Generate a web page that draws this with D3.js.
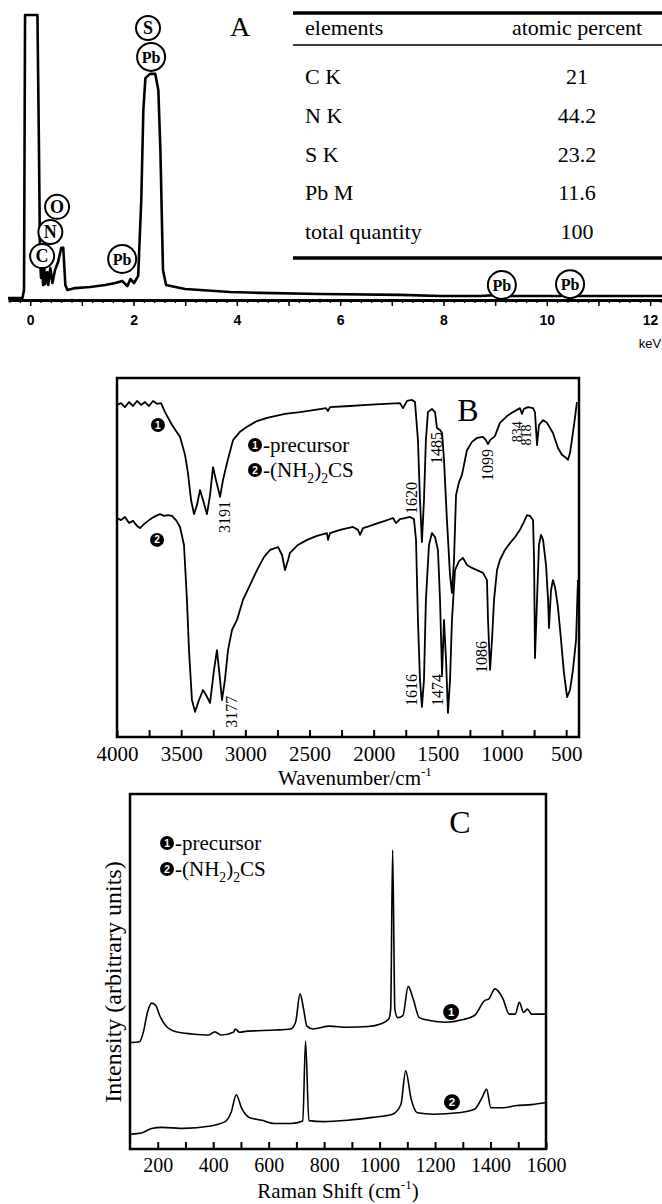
<!DOCTYPE html>
<html>
<head>
<meta charset="utf-8">
<script src="https://cdn.jsdelivr.net/npm/d3@7"></script>
<style>
body { margin: 0; background: #fff; }
svg { display: block; }
</style>
</head>
<body>
<div id="chart"></div>
<script>
// ---- panel A: EDS spectrum (keV, counts in % of full scale)
var edsKeV = [-0.43,-0.15,-0.12,-0.10,0.14,0.17,0.19,0.21,0.23,0.25,0.27,0.29,0.33,0.35,0.39,0.43,0.48,0.54,0.60,0.64,0.68,0.72,0.87,1.16,1.45,1.65,1.78,1.88,1.94,2.01,2.09,2.15,2.19,2.23,2.32,2.42,2.48,2.52,2.57,2.63,2.81,3.00,3.29,3.87,4.45,5.61,7.16,7.94,8.71,9.10,9.19,9.29,10.26,10.45,10.57,12.23];
var edsCounts = [0,0,2.8,100,100,52,13.4,7.1,10.6,4.6,11.3,4.9,9.2,4.6,10.6,5.3,9.9,12.7,17.7,17.7,4.6,2.8,3.5,3.9,4.6,5.3,6.0,4.2,6.7,5.3,7.8,34.6,66.4,77.7,79.2,79.2,73.5,52.3,9.9,4.6,3.9,3.2,2.8,2.1,1.8,1.4,1.1,0.7,0.7,1.1,1.8,0.7,0.7,1.4,0.7,0.7];
var edsPeakNames = ['S','Pb','O','N','C','Pb','Pb','Pb'];
var edsPeakKeV = [2.28,2.34,0.52,0.39,0.23,1.78,9.13,10.45];
var edsPeakCounts = [95.4,85.2,32.2,23.3,14.8,13.8,4.6,4.9];
var edsTicks = [0,1,2,3,4,5,6,7,8,9,10,11,12];

// ---- panel A table
var tableElements = ['C K','N K','S K','Pb M','total quantity'];
var tableAtomic = ['21','44.2','23.2','11.6','100'];

// ---- panel B: FT-IR (wavenumber, transmittance in arbitrary %)
var ir1Wn = [4000,3969,3938,3906,3875,3844,3813,3782,3751,3719,3688,3657,3626,3571,3509,3470,3447,3423,3400,3377,3353,3330,3299,3275,3252,3229,3197,3174,3143,3096,3042,2987,2909,2831,2691,2574,2457,2371,2356,2340,2184,2052,1912,1795,1771,1740,1701,1678,1655,1639,1624,1608,1593,1577,1546,1522,1507,1483,1467,1452,1429,1405,1390,1374,1358,1335,1312,1273,1234,1195,1148,1125,1109,1093,1055,1016,961,914,860,844,829,797,758,743,727,712,680,649,603,564,533,509,486,470,439,416];
var ir1T = [92.5,93.0,91.9,93.3,92.2,93.6,92.5,93.3,92.2,93.6,92.8,93.0,90.5,86.9,83.6,78.6,73.5,66.0,62.1,64.6,68.8,66.0,62.1,67.4,75.2,71.6,66.9,71.6,76.3,82.7,85.0,86.4,88.0,88.9,90.0,90.5,91.1,91.6,90.8,91.9,92.2,92.5,92.8,93.0,91.6,93.6,93.9,93.3,82.7,66.0,54.3,66.0,82.7,90.5,91.4,90.5,86.1,85.5,84.7,77.2,60.4,45.1,40.1,49.3,67.4,71.0,73.0,79.9,82.2,83.3,83.6,82.7,81.6,82.7,83.8,87.5,89.4,90.5,91.6,90.0,91.4,91.9,91.6,90.5,81.3,86.9,88.3,87.5,84.7,80.5,78.6,78.0,77.2,79.1,86.9,93.3];
var ir2Wn = [4000,3969,3938,3906,3875,3844,3821,3790,3758,3727,3696,3665,3634,3603,3571,3540,3509,3478,3455,3439,3416,3392,3361,3330,3306,3275,3244,3221,3197,3182,3159,3135,3104,3065,3018,2964,2909,2855,2808,2745,2714,2691,2667,2652,2590,2519,2442,2364,2356,2340,2262,2161,2122,2106,2083,2052,1990,1912,1849,1826,1795,1756,1717,1686,1670,1655,1639,1624,1608,1593,1569,1546,1522,1499,1483,1467,1452,1436,1421,1405,1390,1366,1335,1304,1273,1234,1195,1148,1117,1109,1093,1078,1062,1039,1016,977,938,898,860,829,805,782,758,750,743,727,712,696,680,657,641,634,618,603,587,564,540,517,493,470,447,423,408];
var ir2T = [61.0,60.4,61.3,59.6,60.2,58.8,58.2,59.3,60.2,61.0,61.6,62.1,61.6,61.8,61.6,60.4,58.5,53.5,38.2,24.2,10.3,7.0,10.3,13.1,11.7,9.5,18.7,24.2,15.9,10.3,15.9,24.2,29.8,32.6,38.2,42.3,46.5,50.1,52.1,52.9,50.7,46.5,49.3,51.3,53.5,54.9,56.0,56.8,54.9,56.8,57.7,58.5,57.7,56.3,58.2,58.5,59.3,60.2,61.0,59.6,60.7,61.0,61.3,60.7,54.9,32.6,15.9,8.4,15.9,38.2,53.5,56.8,55.7,52.1,38.2,17.3,32.6,21.4,6.7,15.9,32.6,46.5,49.0,49.9,47.9,47.1,46.5,45.7,43.7,32.6,18.7,27.0,38.2,46.5,49.3,52.1,54.0,55.7,57.7,59.9,61.8,61.6,60.4,49.3,22.0,38.2,53.5,56.3,54.9,47.9,38.2,30.4,40.9,43.7,41.8,36.2,27.0,17.8,11.1,13.1,18.7,27.0,43.7];
var irTicks = [4000,3750,3500,3250,3000,2750,2500,2250,2000,1750,1500,1250,1000,750,500];
var irBandText = ['3191','3177','1620','1485','1099','834','818','1616','1474','1086'];
var irBandWn = [3158,3104,1701,1507,1109,883,813,1701,1499,1156];
var irBandT = [61.3,7.0,66.6,80.5,75.8,85.0,84.1,13.1,13.1,22.3];

// ---- panel C: Raman (shift, intensity in arbitrary units)
var ramanShift1 = [104,134,148,163,178,193,207,229,266,325,384,406,428,473,480,495,524,561,620,679,697,713,726,738,760,819,885,959,1003,1033,1040,1047,1055,1065,1084,1103,1121,1143,1180,1239,1298,1342,1379,1394,1416,1445,1467,1489,1504,1519,1533,1548,1600];
var ramanInt1 = [30.0,30.2,32.9,38.5,41.1,40.4,37.6,34.7,33.0,32.4,32.1,33.0,32.1,32.9,33.8,32.9,33.2,33.3,33.5,33.8,35.7,43.7,39.4,34.6,33.8,34.6,34.3,34.5,35.2,36.6,39.4,84.2,39.4,37.0,37.6,45.8,42.3,37.0,36.2,35.7,36.4,37.6,41.8,42.3,45.1,42.3,38.0,38.0,41.3,38.5,39.4,38.0,38.0];
var ramanShift2 = [104,141,178,215,296,384,443,465,483,502,532,576,620,679,723,733,745,797,885,973,1047,1077,1094,1114,1136,1195,1283,1342,1369,1386,1401,1445,1489,1548,1600];
var ramanInt2 = [4.2,4.5,5.8,6.1,5.8,6.4,7.7,10.4,15.3,11.6,8.8,8.1,7.2,7.2,7.9,30.4,8.0,7.7,8.1,8.9,9.8,12.6,22.0,14.0,10.2,9.8,10.2,11.2,14.4,16.8,11.6,11.6,12.2,12.5,13.1];
var ramanTicks = [200,300,400,500,600,700,800,900,1000,1100,1200,1300,1400,1500,1600];

var W = 662, H = 1204;
var serif = '"Liberation Serif", "Times New Roman", serif';
var sans = '"Liberation Sans", Arial, sans-serif';

var svg = d3.select('#chart').append('svg')
    .attr('width', W)
    .attr('height', H);
svg.append('rect').attr('width', W).attr('height', H).attr('fill', '#fff');

function trace(g, xs, ys, x, y, width, curve) {
    g.append('path')
        .datum(d3.zip(xs, ys))
        .attr('d', d3.line()
            .x(function(d) { return x(d[0]); })
            .y(function(d) { return y(d[1]); })
            .curve(curve || d3.curveLinear))
        .attr('fill', 'none')
        .attr('stroke', '#000')
        .attr('stroke-width', width)
        .attr('stroke-linejoin', 'round');
}

// black disc with a number in it
function bullet(g, cx, cy, r, num) {
    g.append('circle').attr('cx', cx).attr('cy', cy).attr('r', r).attr('fill', '#000');
    g.append('text').attr('x', cx).attr('y', cy + r * 0.5)
        .attr('text-anchor', 'middle')
        .attr('font-family', sans).attr('font-weight', 'bold')
        .attr('font-size', r * 1.45).attr('fill', '#fff')
        .text(num);
}

function legend(g, x, y, r, size, gap) {
    bullet(g, x, y, r, '1');
    g.append('text').attr('x', x + r + 1).attr('y', y + size * 0.33)
        .attr('font-family', serif).attr('font-size', size)
        .text('-precursor');
    bullet(g, x, y + gap, r, '2');
    var t = g.append('text').attr('x', x + r + 1).attr('y', y + gap + size * 0.33)
        .attr('font-family', serif).attr('font-size', size);
    t.append('tspan').text('-(NH');
    t.append('tspan').attr('dy', size * 0.3).attr('font-size', size * 0.65).text('2');
    t.append('tspan').attr('dy', -size * 0.3).text(')');
    t.append('tspan').attr('dy', size * 0.3).attr('font-size', size * 0.65).text('2');
    t.append('tspan').attr('dy', -size * 0.3).text('CS');
}

// ================= panel A =================
var xA = d3.scaleLinear().domain([-0.43, 12.23]).range([8, 662]);
var yA = d3.scaleLinear().domain([0, 100]).range([298, 15]);
var gA = svg.append('g');

trace(gA, edsKeV, edsCounts, xA, yA, 2.6);

var axA = gA.append('g')
    .attr('transform', 'translate(0,300)')
    .call(d3.axisBottom(xA).tickValues(edsTicks).tickSizeInner(6).tickSizeOuter(0).tickPadding(9)
        .tickFormat(function(d) { return d % 2 === 0 ? d : ''; }));
axA.select('.domain').attr('stroke-width', 3);
axA.selectAll('.tick line').attr('stroke-width', 1.5);
axA.selectAll('.tick text').attr('font-family', sans).attr('font-size', 14).attr('font-weight', 'bold');

var minorA = gA.append('g')
    .attr('transform', 'translate(0,300)')
    .call(d3.axisBottom(xA).tickValues(d3.range(-0.4, 12.21, 0.2)).tickSizeInner(3).tickSizeOuter(0).tickFormat(''));
minorA.select('.domain').remove();
minorA.selectAll('.tick line').attr('stroke-width', 1.2);

gA.append('text').attr('x', 650).attr('y', 348)
    .attr('text-anchor', 'middle').attr('font-family', sans).attr('font-size', 13)
    .text('keV');

edsPeakNames.forEach(function(name, i) {
    var cx = xA(edsPeakKeV[i]);
    var cy = yA(edsPeakCounts[i]);
    var r = name === 'Pb' ? 14 : 12;
    gA.append('circle').attr('cx', cx).attr('cy', cy).attr('r', r)
        .attr('fill', '#fff').attr('stroke', '#000').attr('stroke-width', 2);
    gA.append('text').attr('x', cx).attr('y', cy + 6)
        .attr('text-anchor', 'middle').attr('font-family', serif)
        .attr('font-weight', 'bold').attr('font-size', name === 'Pb' ? 16 : 18)
        .text(name);
});

gA.append('text').attr('x', 240).attr('y', 36)
    .attr('text-anchor', 'middle').attr('font-family', serif).attr('font-size', 28)
    .text('A');

// table
var rowY = d3.scalePoint().domain(tableElements).range([77, 232]);
var tbl = gA.append('g');
tbl.append('line').attr('x1', 293).attr('x2', 662).attr('y1', 13).attr('y2', 13)
    .attr('stroke', '#000').attr('stroke-width', 3.5);
tbl.append('line').attr('x1', 293).attr('x2', 662).attr('y1', 45).attr('y2', 45)
    .attr('stroke', '#000').attr('stroke-width', 1.5);
tbl.append('line').attr('x1', 293).attr('x2', 662).attr('y1', 258).attr('y2', 258)
    .attr('stroke', '#000').attr('stroke-width', 3.5);
tbl.append('text').attr('x', 305).attr('y', 35)
    .attr('font-family', serif).attr('font-size', 22).text('elements');
tbl.append('text').attr('x', 577).attr('y', 35).attr('text-anchor', 'middle')
    .attr('font-family', serif).attr('font-size', 22).text('atomic percent');
tableElements.forEach(function(el, i) {
    tbl.append('text').attr('x', 305).attr('y', rowY(el) + 7)
        .attr('font-family', serif).attr('font-size', 22).text(el);
    tbl.append('text').attr('x', 577).attr('y', rowY(el) + 7).attr('text-anchor', 'middle')
        .attr('font-family', serif).attr('font-size', 22).text(tableAtomic[i]);
});

// ================= panel B =================
var xB = d3.scaleLinear().domain([4000, 400]).range([117, 579]);
var yB = d3.scaleLinear().domain([0, 100]).range([737, 378]);
var gB = svg.append('g');

trace(gB, ir1Wn, ir1T, xB, yB, 1.8);
trace(gB, ir2Wn, ir2T, xB, yB, 1.8);

var axB = gB.append('g')
    .attr('transform', 'translate(0,737)')
    .call(d3.axisBottom(xB).tickValues(irTicks).tickSizeInner(-7).tickSizeOuter(0).tickPadding(8)
        .tickFormat(function(d) { return d % 500 === 0 ? d : ''; }));
axB.select('.domain').remove();
axB.selectAll('.tick line').attr('stroke-width', 2);
axB.selectAll('.tick text').attr('font-family', serif).attr('font-size', 21).attr('dy', '0.75em');

gB.append('rect').attr('x', 117).attr('y', 378).attr('width', 462).attr('height', 359)
    .attr('fill', 'none').attr('stroke', '#000').attr('stroke-width', 2.5);

var tB = gB.append('text').attr('x', 355).attr('y', 785).attr('text-anchor', 'middle')
    .attr('font-family', serif).attr('font-size', 21);
tB.append('tspan').text('Wavenumber/cm');
tB.append('tspan').attr('dy', -9).attr('font-size', 13).text('-1');

gB.append('text').attr('x', 468).attr('y', 421)
    .attr('text-anchor', 'middle').attr('font-family', serif).attr('font-size', 32)
    .text('B');

irBandText.forEach(function(t, i) {
    var px = xB(irBandWn[i]);
    var py = yB(irBandT[i]);
    gB.append('text')
        .attr('transform', 'translate(' + (px + 5) + ',' + py + ') rotate(-90)')
        .attr('text-anchor', 'middle')
        .attr('font-family', serif).attr('font-size', t.length === 3 ? 14 : 16)
        .text(t);
});

bullet(gB, xB(3681), yB(86.9), 7, '1');
bullet(gB, xB(3688), yB(54.9), 7, '2');
legend(gB, 255, 445, 7, 21, 25);

// ================= panel C =================
var xC = d3.scaleLinear().domain([100, 1600]).range([130, 546]);
var yC = d3.scaleLinear().domain([0, 100]).range([1149, 794]);
var gC = svg.append('g');

trace(gC, ramanShift1, ramanInt1, xC, yC, 1.6, d3.curveMonotoneX);
trace(gC, ramanShift2, ramanInt2, xC, yC, 1.6, d3.curveMonotoneX);

var axC = gC.append('g')
    .attr('transform', 'translate(0,1149)')
    .call(d3.axisBottom(xC).tickValues(ramanTicks).tickSizeInner(-7).tickSizeOuter(0).tickPadding(8)
        .tickFormat(function(d) { return d % 200 === 0 ? d : ''; }));
axC.select('.domain').remove();
axC.selectAll('.tick line').attr('stroke-width', 2);
axC.selectAll('.tick text').attr('font-family', serif).attr('font-size', 20).attr('dy', '0.75em');

gC.append('rect').attr('x', 130).attr('y', 794).attr('width', 416).attr('height', 355)
    .attr('fill', 'none').attr('stroke', '#000').attr('stroke-width', 2.5);

var tC = gC.append('text').attr('x', 338).attr('y', 1198).attr('text-anchor', 'middle')
    .attr('font-family', serif).attr('font-size', 21);
tC.append('tspan').text('Raman Shift (cm');
tC.append('tspan').attr('dy', -9).attr('font-size', 13).text('-1');
tC.append('tspan').attr('dy', 9).text(')');

gC.append('text')
    .attr('transform', 'translate(113,982) rotate(-90)')
    .attr('text-anchor', 'middle').attr('dy', '0.35em')
    .attr('font-family', serif).attr('font-size', 24)
    .text('Intensity (arbitrary units)');

gC.append('text').attr('x', 460).attr('y', 833)
    .attr('text-anchor', 'middle').attr('font-family', serif).attr('font-size', 32)
    .text('C');

bullet(gC, xC(1258), yC(38.6), 8, '1');
bullet(gC, xC(1261), yC(13.2), 8, '2');
legend(gC, 167, 843, 7, 21, 26);
</script>
</body>
</html>
